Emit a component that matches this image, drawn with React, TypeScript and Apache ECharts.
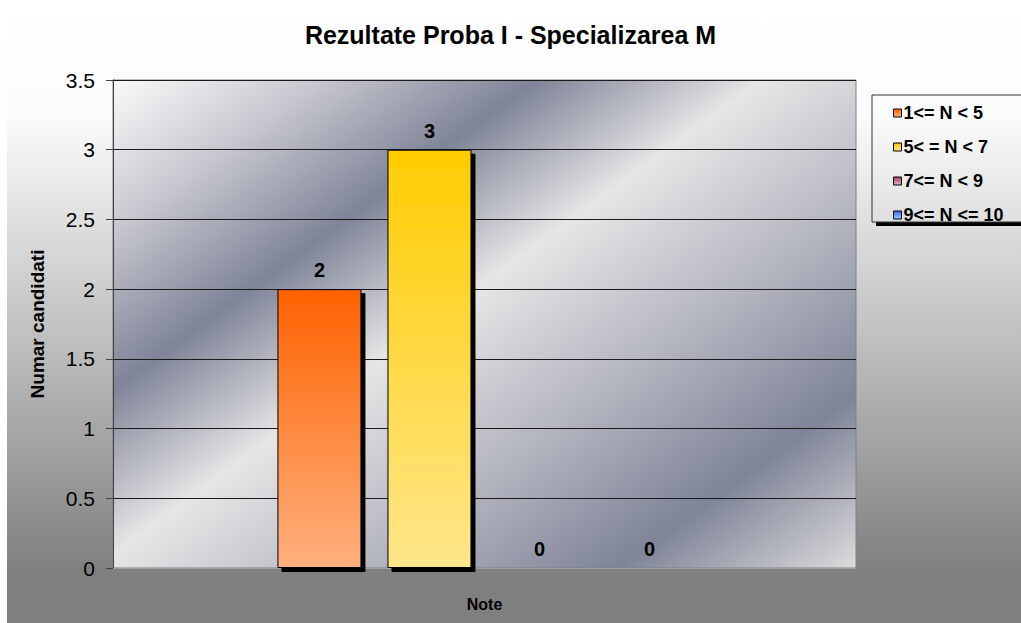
import React, { useEffect, useRef } from 'react';
import * as echarts from 'echarts';

const chartTitle = 'Rezultate Proba I - Specializarea M';
const categories = ['Note'];
const seriesNames = ['1<= N < 5', '5< = N < 7', '7<= N < 9', '9<= N <= 10'];
const seriesValues = [2, 3, 0, 0];
const yMin = 0;
const yMax = 3.5;
const yInterval = 0.5;
const yAxisName = 'Numar candidati';
const xAxisName = 'Note';

const barColors: [string, string][] = [
  ['#ff6200', '#ffb07e'],
  ['#ffcc00', '#ffe68a'],
  ['#a0406a', '#e8b0c8'],
  ['#3366ff', '#99ccff'],
];

const FONT = 'Liberation Sans, Arial, sans-serif';

function pageGradient() {
  return {
    type: 'linear', x: 0, y: 0, x2: 0, y2: 623, global: true,
    colorStops: [
      { offset: 0, color: '#ffffff' },
      { offset: 0.19, color: '#fbfbfb' },
      { offset: 0.915, color: '#808080' },
      { offset: 1, color: '#7f7f7f' },
    ],
  };
}

export default function App() {
  const ref = useRef<HTMLDivElement>(null);
  useEffect(() => {
    document.body.style.margin = '0';
    const chart = echarts.init(ref.current!, null, { renderer: 'svg' });
    const plotGradient = {
      type: 'linear', x: 113, y: 80, x2: 604, y2: 753, global: true,
      colorStops: [
        { offset: 0, color: '#fafafa' },
        { offset: 0.14, color: '#c9cad1' },
        { offset: 0.3, color: '#7f8498' },
        { offset: 0.46, color: '#e6e6e6' },
        { offset: 0.64, color: '#b6b8c2' },
        { offset: 0.83, color: '#7f8498' },
        { offset: 1, color: '#dcdcdc' },
      ],
    };
    const series = seriesNames.map((name, i) => ({
      name,
      type: 'bar',
      data: [seriesValues[i]],
      barWidth: 84,
      barGap: '31%',
      itemStyle: {
        color: new echarts.graphic.LinearGradient(0, 0, 0, 1, [
          { offset: 0, color: barColors[i][0] },
          { offset: 1, color: barColors[i][1] },
        ]),
        borderColor: '#000',
        borderWidth: 1,
        shadowColor: '#000',
        shadowBlur: 0,
        shadowOffsetX: 4,
        shadowOffsetY: 4,
      },
      label: {
        show: true,
        position: 'top',
        distance: 9,
        color: '#000',
        fontFamily: FONT,
        fontWeight: 'bold',
        fontSize: 20,
      },
    }));
    chart.setOption({
      animation: false,
      title: {
        text: chartTitle,
        left: 'center',
        top: 17,
        textStyle: { fontFamily: FONT, fontWeight: 'bold', fontSize: 25, color: '#000' },
      },
      graphic: [
        { type: 'rect', z: -10, shape: { x: 7, y: 7, width: 1014, height: 616 }, style: { fill: pageGradient() } },
        { type: 'rect', z: -9, shape: { x: 876, y: 99, width: 160, height: 127 }, style: { fill: '#000' } },
        { type: 'rect', z: -8, shape: { x: 872, y: 95, width: 160, height: 127 }, style: { fill: pageGradient(), stroke: '#333', lineWidth: 1 } },
      ],
      legend: {
        orient: 'vertical',
        left: 893,
        top: 104,
        padding: 0,
        itemWidth: 8,
        itemHeight: 8,
        itemGap: 16,
        icon: 'rect',
        textStyle: { fontFamily: FONT, fontWeight: 'bold', fontSize: 18, color: '#000', lineHeight: 16, padding: [0, 0, 0, -3] },
        itemStyle: { shadowColor: 'transparent', shadowBlur: 0, shadowOffsetX: 0, shadowOffsetY: 0, borderColor: '#000', borderWidth: 1 },
        data: seriesNames,
      },
      grid: {
        left: 113,
        right: 165,
        top: 80,
        bottom: 55,
        show: true,
        backgroundColor: plotGradient,
        borderColor: '#808080',
        borderWidth: 1,
      },
      xAxis: {
        type: 'category',
        data: categories,
        name: xAxisName,
        nameLocation: 'middle',
        nameGap: 28,
        nameTextStyle: { fontFamily: FONT, fontWeight: 'bold', fontSize: 16, color: '#000' },
        axisLine: { lineStyle: { color: '#a0a0a0', width: 1 } },
        axisTick: { show: false },
        axisLabel: { show: false },
      },
      yAxis: {
        type: 'value',
        min: yMin,
        max: yMax,
        interval: yInterval,
        name: yAxisName,
        nameLocation: 'middle',
        nameGap: 66,
        nameTextStyle: { fontFamily: FONT, fontWeight: 'bold', fontSize: 19, color: '#000' },
        axisLine: { show: true, lineStyle: { color: '#404040', width: 1 } },
        axisTick: { show: true, length: 7, lineStyle: { color: '#404040' } },
        axisLabel: { margin: 18, fontFamily: FONT, fontSize: 21, color: '#000' },
        splitLine: { show: true, lineStyle: { color: '#1a1a1a', width: 1 } },
      },
      series,
    });
    return () => chart.dispose();
  }, []);
  return <div ref={ref} style={{ width: 1021, height: 623 }} />;
}
